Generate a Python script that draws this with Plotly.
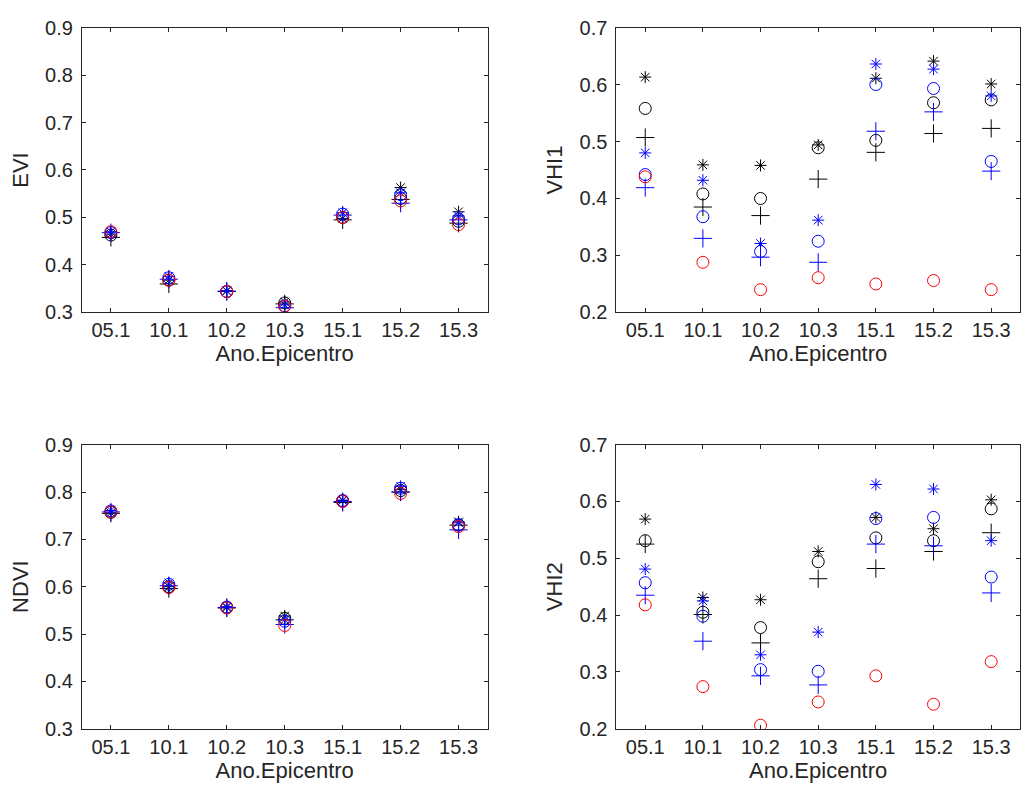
import plotly.graph_objects as go

# Ano.Epicentro categories shared by all four panels
categories = ["05.1", "10.1", "10.2", "10.3", "15.1", "15.2", "15.3"]

# ---- EVI ----
evi_black_star = [0.465, 0.368, 0.345, 0.322, 0.498, 0.563, 0.512]
evi_black_circ = [0.463, 0.368, 0.344, 0.320, 0.500, 0.540, 0.492]
evi_black_plus = [0.458, 0.360, 0.344, 0.318, 0.495, 0.538, 0.488]
evi_blue_star = [0.470, 0.376, 0.346, 0.316, 0.510, 0.552, 0.503]
evi_blue_circ = [0.468, 0.373, 0.344, 0.314, 0.507, 0.548, 0.497]
evi_blue_plus = [0.468, 0.370, 0.345, 0.310, 0.505, 0.530, 0.495]
evi_red_circ = [0.470, 0.368, 0.344, 0.313, 0.500, 0.535, 0.485]

# ---- NDVI ----
ndvi_black_star = [0.756, 0.600, 0.556, 0.538, 0.782, 0.805, 0.737]
ndvi_black_circ = [0.757, 0.600, 0.556, 0.533, 0.781, 0.803, 0.731]
ndvi_black_plus = [0.755, 0.596, 0.555, 0.530, 0.778, 0.800, 0.730]
ndvi_blue_star = [0.761, 0.608, 0.558, 0.530, 0.783, 0.812, 0.735]
ndvi_blue_circ = [0.760, 0.605, 0.557, 0.527, 0.782, 0.808, 0.730]
ndvi_blue_plus = [0.758, 0.602, 0.556, 0.520, 0.780, 0.800, 0.720]
ndvi_red_circ = [0.758, 0.598, 0.555, 0.518, 0.780, 0.797, 0.727]

# ---- VHI1 ----
vhi1_black_star = [0.613, 0.459, 0.458, 0.494, 0.611, 0.641, 0.601]
vhi1_black_circ = [0.558, 0.408, 0.400, 0.489, 0.502, 0.568, 0.573]
vhi1_black_plus = [0.507, 0.385, 0.370, 0.434, 0.481, 0.514, 0.523]
vhi1_blue_star = [0.480, 0.432, 0.321, 0.362, 0.636, 0.627, 0.580]
vhi1_blue_circ = [0.442, 0.368, 0.307, 0.325, 0.600, 0.593, 0.465]
vhi1_blue_plus = [0.419, 0.330, 0.297, 0.288, 0.518, 0.552, 0.448]
vhi1_red_circ = [0.438, 0.288, 0.240, 0.261, 0.250, 0.256, 0.240]

# ---- VHI2 ----
vhi2_black_star = [0.569, 0.431, 0.427, 0.512, 0.572, 0.552, 0.603]
vhi2_black_circ = [0.531, 0.405, 0.378, 0.494, 0.536, 0.531, 0.587]
vhi2_black_plus = [0.525, 0.401, 0.351, 0.464, 0.482, 0.512, 0.545]
vhi2_blue_star = [0.481, 0.425, 0.330, 0.370, 0.630, 0.622, 0.531]
vhi2_blue_circ = [0.457, 0.398, 0.304, 0.301, 0.570, 0.572, 0.467]
vhi2_blue_plus = [0.435, 0.354, 0.293, 0.277, 0.525, 0.522, 0.439]
vhi2_red_circ = [0.418, 0.274, 0.206, 0.247, 0.293, 0.243, 0.318]

# Marker styles for the seven series of each panel
series_styles = [
    ("#000000", "asterisk-open", 10),
    ("#000000", "circle-open", 12),
    ("#000000", "cross-thin-open", 13),
    ("#0000FF", "asterisk-open", 10),
    ("#0000FF", "circle-open", 12),
    ("#0000FF", "cross-thin-open", 13),
    ("#FF0000", "circle-open", 12),
]

panels = [
    ("EVI", [evi_black_star, evi_black_circ, evi_black_plus, evi_blue_star,
             evi_blue_circ, evi_blue_plus, evi_red_circ], [0.3, 0.9], 1),
    ("VHI1", [vhi1_black_star, vhi1_black_circ, vhi1_black_plus, vhi1_blue_star,
              vhi1_blue_circ, vhi1_blue_plus, vhi1_red_circ], [0.2, 0.7], 2),
    ("NDVI", [ndvi_black_star, ndvi_black_circ, ndvi_black_plus, ndvi_blue_star,
              ndvi_blue_circ, ndvi_blue_plus, ndvi_red_circ], [0.3, 0.9], 3),
    ("VHI2", [vhi2_black_star, vhi2_black_circ, vhi2_black_plus, vhi2_blue_star,
              vhi2_blue_circ, vhi2_blue_plus, vhi2_red_circ], [0.2, 0.7], 4),
]

W, H = 1021, 798
# Axes boxes in pixels: (left, right, top, bottom)
boxes = {
    1: (82, 488, 17, 310),
    2: (617, 1021, 17, 310),
    3: (82, 488, 446, 738),
    4: (617, 1021, 446, 738),
}

FONT = "Liberation Sans, Arial, sans-serif"
TXT = "#262626"

fig = go.Figure()
layout = dict(
    width=W, height=H,
    margin=dict(l=0, r=0, t=0, b=0),
    paper_bgcolor="white", plot_bgcolor="white",
    showlegend=False,
    font=dict(family=FONT, size=20, color=TXT),
)

xpos = list(range(1, len(categories) + 1))

for name, series, yrange, idx in panels:
    suffix = "" if idx == 1 else str(idx)
    xa, ya = "x" + suffix, "y" + suffix
    for vals, (color, symbol, size) in zip(series, series_styles):
        fig.add_trace(go.Scatter(
            x=xpos, y=vals, mode="markers", xaxis=xa, yaxis=ya,
            marker=dict(symbol=symbol, size=size, color=color,
                        line=dict(color=color, width=1)),
            hoverinfo="skip",
        ))
    l, r, t, b = boxes[idx]
    common = dict(
        showline=True, linecolor=TXT, linewidth=1, mirror="ticks",
        ticks="inside", ticklen=4, tickcolor=TXT, showgrid=False,
        zeroline=False, tickfont=dict(family=FONT, size=20, color=TXT),
    )
    layout["xaxis" + suffix] = dict(
        common, domain=[l / W, r / W], anchor=ya, range=[0.5, 7.5],
        tickmode="array", tickvals=xpos, ticktext=categories,
        title=dict(text="Ano.Epicentro", font=dict(family=FONT, size=22, color=TXT),
                   standoff=4),
    )
    layout["yaxis" + suffix] = dict(
        common, domain=[1 - b / H, 1 - t / H], anchor=xa, range=yrange,
        dtick=0.1, tickformat=".1f", ticklabelstandoff=4,
        title=dict(text=name, font=dict(family=FONT, size=22, color=TXT),
                   standoff=10),
    )

fig.update_layout(**layout)
fig.write_html("out.html")
